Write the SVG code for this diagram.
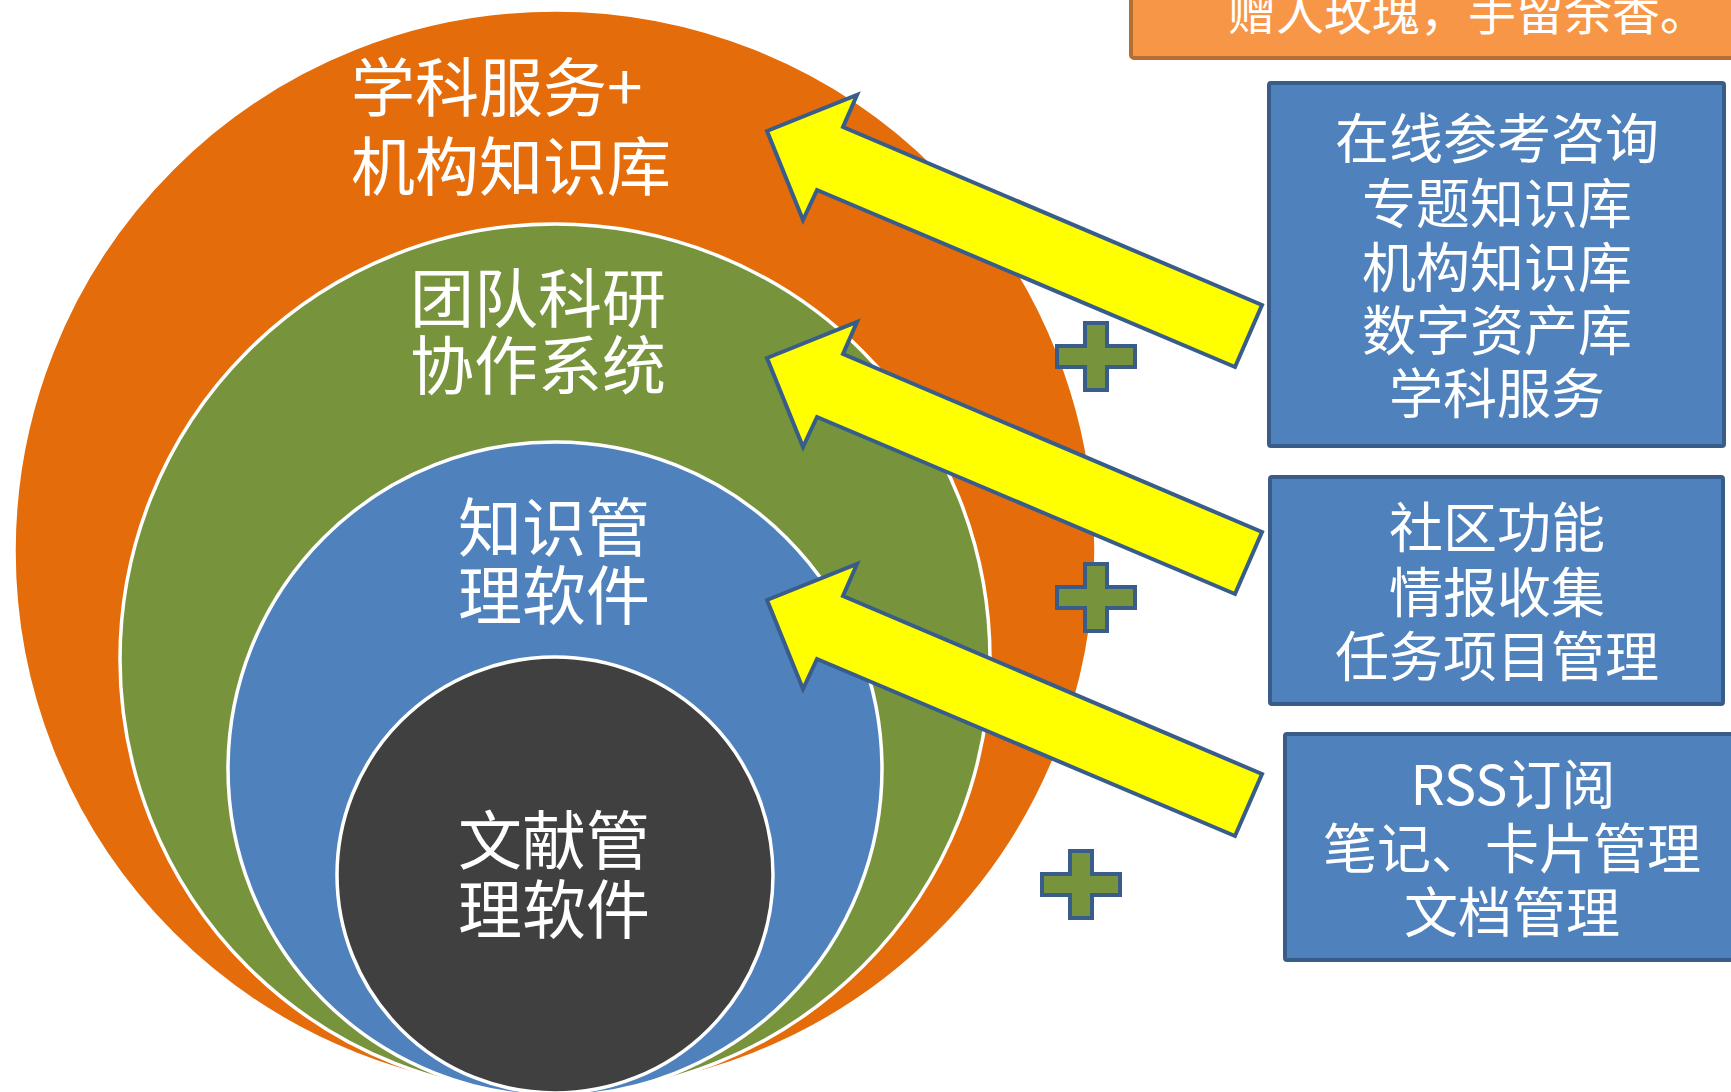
<svg xmlns="http://www.w3.org/2000/svg" width="1731" height="1092" viewBox="0 0 1731 1092">
  <style>
    .t { font-family: "Noto Sans CJK SC", "Noto Sans", sans-serif; fill: #FFFFFF; }
    .big { font-size: 64px; }
    .mid { font-size: 54px; }
    .ban { font-size: 48px; }
    .ring { stroke: #FFFFFF; stroke-width: 3.5; }
    .box { fill: #4F81BD; stroke: #385D8A; stroke-width: 4; }
    .arrow { fill: #FFFF00; stroke: #385D8A; stroke-width: 4; stroke-linejoin: miter; }
    .plus { fill: #77933C; stroke: #385D8A; stroke-width: 4; }
  </style>
  <defs>
    <path id="arrowShape" d="M767,131 L857,95 L843,127 L1262,305 L1235,367 L817,190 L803,220 Z"/>
    <path id="plusShape" d="M28,0 h22 v23 h28 v21 h-28 v23 h-22 v-23 h-28 v-21 h28 Z"/>
  </defs>
  <rect width="1731" height="1092" fill="#FFFFFF"/>

  <g id="banner">
    <rect x="1131" y="-20" width="640" height="78" rx="3" fill="#F79646" stroke="#B66D31" stroke-width="4"/>
    <text class="t ban" x="1228" y="30">赠人玫瑰，手留余香。</text>
  </g>

  <g id="ring-subject">
    <circle cx="555" cy="551" r="541" fill="#E46C0A" class="ring"/>
    <text class="t big" x="351" y="111">学科服务+</text>
    <text class="t big" x="351" y="190">机构知识库</text>
  </g>
  <g id="ring-team">
    <circle cx="555" cy="659" r="435" fill="#77933C" class="ring"/>
    <text class="t big" x="410" y="322">团队科研</text>
    <text class="t big" x="410" y="389">协作系统</text>
  </g>
  <g id="ring-knowledge">
    <circle cx="555" cy="769" r="327" fill="#4F81BD" class="ring"/>
    <text class="t big" x="458" y="551">知识管</text>
    <text class="t big" x="458" y="619">理软件</text>
  </g>
  <g id="ring-literature">
    <circle cx="555" cy="875" r="218" fill="#404040" class="ring"/>
    <text class="t big" x="458" y="864">文献管</text>
    <text class="t big" x="458" y="933">理软件</text>
  </g>

  <g id="box-services">
    <rect class="box" x="1269" y="83" width="455" height="363" rx="2"/>
    <text class="t mid" text-anchor="middle" x="1497" y="159">在线参考咨询</text>
    <text class="t mid" text-anchor="middle" x="1497" y="224">专题知识库</text>
    <text class="t mid" text-anchor="middle" x="1497" y="288">机构知识库</text>
    <text class="t mid" text-anchor="middle" x="1497" y="351">数字资产库</text>
    <text class="t mid" text-anchor="middle" x="1497" y="414">学科服务</text>
  </g>
  <g id="box-community">
    <rect class="box" x="1270" y="477" width="453" height="227" rx="2"/>
    <text class="t mid" text-anchor="middle" x="1497" y="548">社区功能</text>
    <text class="t mid" text-anchor="middle" x="1497" y="613">情报收集</text>
    <text class="t mid" text-anchor="middle" x="1497" y="677">任务项目管理</text>
  </g>
  <g id="box-rss">
    <rect class="box" x="1285" y="734" width="480" height="226" rx="2"/>
    <text class="t mid" text-anchor="middle" x="1513" y="805">RSS订阅</text>
    <text class="t mid" text-anchor="middle" x="1512" y="869">笔记、卡片管理</text>
    <text class="t mid" text-anchor="middle" x="1512" y="933">文档管理</text>
  </g>

  <g id="plus-signs">
    <use href="#plusShape" class="plus" transform="translate(1057,323)"/>
    <use href="#plusShape" class="plus" transform="translate(1057,564)"/>
    <use href="#plusShape" class="plus" transform="translate(1042,851)"/>
  </g>

  <g id="connectors">
    <use href="#arrowShape" class="arrow"/>
    <use href="#arrowShape" class="arrow" transform="translate(0,227)"/>
    <use href="#arrowShape" class="arrow" transform="translate(0,469)"/>
  </g>
</svg>
